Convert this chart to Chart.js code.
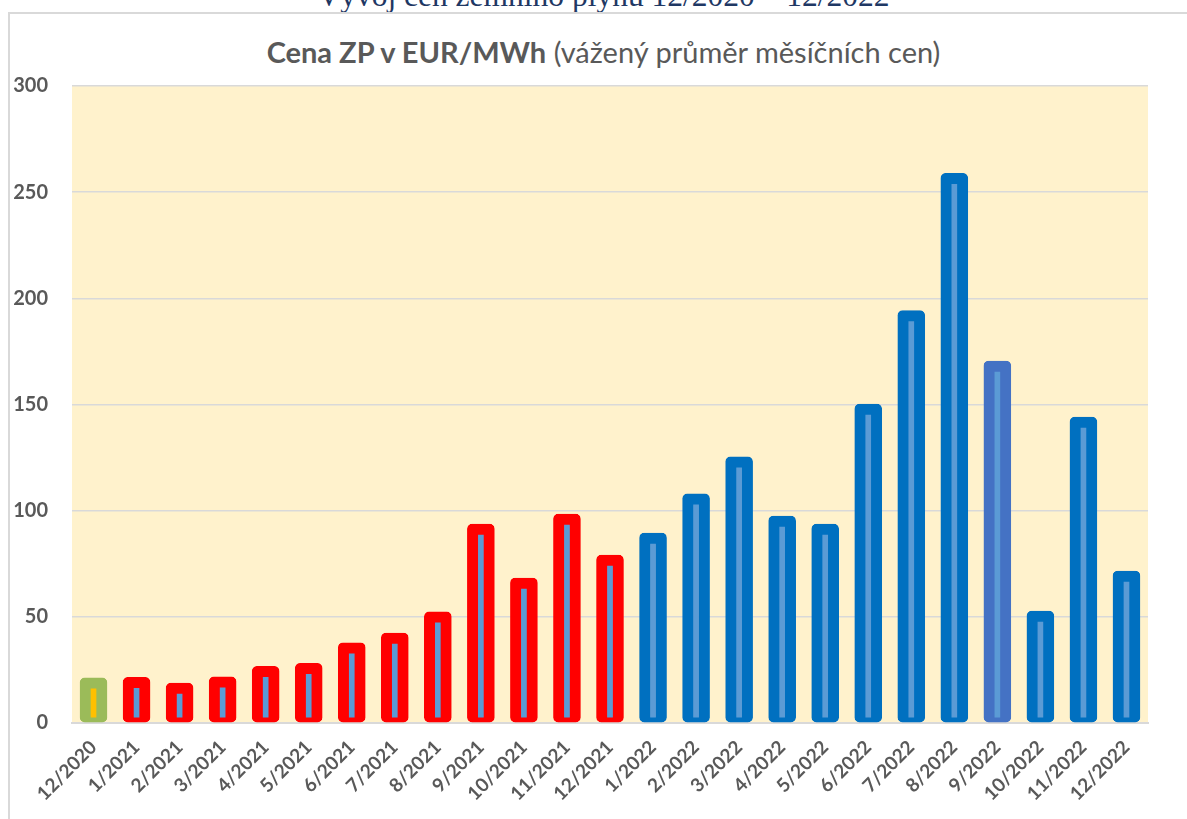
<!DOCTYPE html>
<html>
<head>
<meta charset="utf-8">
<script src="https://cdn.jsdelivr.net/npm/chart.js"></script>
<style>
  html, body { margin: 0; padding: 0; background: #fff; overflow: hidden; }
  #wrap { position: relative; width: 1187px; height: 819px; }
  #frame { position: absolute; left: 8px; top: 12px; right: -10px; bottom: -10px;
           border-top: 2px solid #d9d9d9; border-left: 2px solid #d9d9d9; }
  #head { position: absolute; left: 0; width: 1207px; top: -20px; text-align: center;
          font-family: "Liberation Serif", serif; font-size: 31.5px; line-height: 31.5px; color: #1f3864; white-space: nowrap; }
  #title { position: absolute; left: 0; width: 1207px; top: 37px; text-align: center;
           font-family: Lato, sans-serif; font-size: 29px; line-height: 29px; color: #595959; white-space: nowrap; }
  #title b { font-weight: 700; }
  canvas { position: absolute; left: 0; top: 0; }
</style>
</head>
<body>
<div id="wrap">
  <div id="head">Vývoj cen zemního plynu 12/2020 – 12/2022</div>
  <div id="frame"></div>
  <div id="title"><b>Cena ZP v EUR/MWh</b> (vážený průměr měsíčních cen)</div>
  <canvas id="chart_gas" width="1187" height="819"></canvas>
</div>
<script>
(()=>{
  // data
  const months = ['12/2020','1/2021','2/2021','3/2021','4/2021','5/2021','6/2021','7/2021','8/2021','9/2021','10/2021','11/2021','12/2021',
                  '1/2022','2/2022','3/2022','4/2022','5/2022','6/2022','7/2022','8/2022','9/2022','10/2022','11/2022','12/2022']
  const prices = [21.3, 21.5, 18.8, 21.7, 26.7, 28.1, 37.8, 42.4, 52.3, 93.7, 68.3, 98.4, 79.1,
                  89.5, 107.9, 125.3, 97.5, 93.7, 150.2, 194.2, 258.9, 170.5, 52.7, 144.1, 71.6]
  const yTicks = [0, 50, 100, 150, 200, 250, 300]

  // colours per bar (outer frame / inner stripe)
  const outer = months.map((m, i) => {
    if(i === 0) return '#9bbb59'
    if(m === '9/2022') return '#4472c4'
    return m.endsWith('2021') ? '#ff0000' : '#0070c0'
  })
  const inner = months.map((m, i) => i === 0 ? '#ffc000' : '#5b9bd5')

  const plotBg = {
    id: 'plotBg',
    beforeDraw(chart){
      const a = chart.chartArea, ctx = chart.ctx
      ctx.save()
      ctx.fillStyle = '#fff2cc'
      ctx.fillRect(a.left, a.top, a.right - a.left, a.bottom - a.top)
      ctx.restore()
    }
  }

  const tickFont = { family: 'Lato', weight: 'bold', size: 20 }

  new Chart(document.getElementById('chart_gas'), {
    type: 'bar',
    data: {
      labels: months,
      datasets: [{
        data: prices,
        backgroundColor: inner,
        borderColor: outer,
        borderWidth: { top: 11, left: 11, right: 11, bottom: 5 },
        borderSkipped: false,
        borderRadius: 5,
        barThickness: 27
      }]
    },
    options: {
      responsive: false,
      animation: false,
      layout: { padding: { top: 86, right: 39, left: 0, bottom: 0 } },
      plugins: { legend: { display: false }, tooltip: { enabled: false } },
      scales: {
        x: {
          grid: { display: false, drawTicks: false },
          border: { color: '#d9d9d9', width: 2 },
          ticks: { color: '#595959', font: { family: 'Lato', weight: 'bold', size: 19 }, minRotation: 45, maxRotation: 45, padding: 13, autoSkip: false },
          afterFit(s){ s.height = 819 - 723 }
        },
        y: {
          min: 0, max: 300,
          afterBuildTicks(s){ s.ticks = yTicks.map(v => ({ value: v })) },
          grid: { color: '#d9d9d9', lineWidth: 1.5, drawTicks: false },
          border: { display: false },
          ticks: { color: '#595959', font: tickFont, padding: 24 },
          afterFit(s){ s.width = 72 }
        }
      }
    },
    plugins: [plotBg]
  })
})()
</script>
</body>
</html>
